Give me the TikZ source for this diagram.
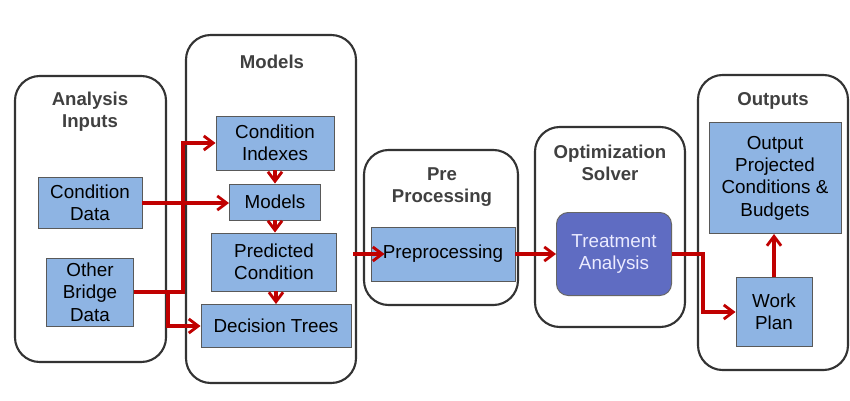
\documentclass[tikz,border=0pt]{standalone}
\usepackage{fontspec}
\setmainfont{Liberation Sans}
\usetikzlibrary{arrows.meta,calc}
\definecolor{boxblue}{HTML}{8EB4E3}
\definecolor{solverblue}{HTML}{5F6CC2}
\definecolor{flowred}{HTML}{C00000}
\definecolor{framegray}{HTML}{333333}
\definecolor{headgray}{HTML}{404040}

\begin{document}
\begin{tikzpicture}[x=0.85pt, y=-0.85pt,
  group/.style = {draw=framegray, line width=1.8pt, rounded corners=21pt, fill=white, inner sep=0pt},
  heading/.style = {text=headgray, font=\fontsize{15.8}{18.5}\selectfont\bfseries, align=center},
  blk/.style = {draw=black!65, line width=0.8pt, fill=boxblue, align=center, inner sep=0pt,
                font=\fontsize{16}{19}\selectfont},
  flow/.style = {draw=flowred, line width=2.6pt, -{Straight Barb[length=8pt,width=12pt,line width=2.4pt]}}]
\useasboundingbox (0,0) rectangle (850,401);

% group frames
\node[group, minimum width=128.4pt, minimum height=243.1pt] (grpIn)  at (90.5,219) {};
\node[group, minimum width=144.5pt, minimum height=295.8pt] (grpMod) at (271,209) {};
\node[group, minimum width=130.9pt, minimum height=131.8pt] (grpPre) at (441,227.5) {};
\node[group, minimum width=127.5pt, minimum height=170pt]   (grpOpt) at (610,227) {};
\node[group, minimum width=127.5pt, minimum height=250.8pt] (grpOut) at (773,222.5) {};

% headings
\node[heading] (hIn)  at (90,112)  {Analysis\\Inputs};
\node[heading] (hMod) at (272,62)  {Models};
\node[heading] (hPre) at (442,187) {Pre\\Processing};
\node[heading] (hOpt) at (610,163) {Optimization\\Solver};
\node[heading] (hOut) at (773,101) {Outputs};

% blocks
\node[blk, minimum width=88.4pt,  minimum height=43.4pt] (cd)  at (90,203)  {Condition\\Data};
\node[blk, minimum width=74pt,    minimum height=57.8pt] (obd) at (90,292)  {Other\\Bridge\\Data};
\node[blk, minimum width=100.3pt, minimum height=45.9pt] (ci)  at (275,143) {Condition\\Indexes};
\node[blk, minimum width=77.4pt,  minimum height=30.6pt] (mod) at (275,202) {Models};
\node[blk, minimum width=106.3pt, minimum height=49.3pt] (pc)  at (274,262) {Predicted\\Condition};
\node[blk, minimum width=127.5pt, minimum height=36.6pt] (dt)  at (276,326) {Decision Trees};
\node[blk, minimum width=122.4pt, minimum height=45.9pt] (pp)  at (443,254) {Preprocessing};
\node[blk, fill=solverblue, draw=black!60, rounded corners=10pt, text=white!92!blue,
      minimum width=97.8pt, minimum height=70.6pt] (ta) at (614,254) {Treatment\\Analysis};
\node[blk, minimum width=112.2pt, minimum height=94.4pt] (out) at (775,178) {Output\\Projected\\Conditions \&\\Budgets};
\node[blk, minimum width=64.6pt,  minimum height=58.7pt] (wp)  at (774,312) {Work\\Plan};

% connectors
\draw[flow] (obd.east) -- ++(49,0) |- (ci.west);
\draw[flow] (obd.east) -- ++(34,0) |- (dt.west);
\draw[flow] (cd.east) -- (cd.east -| mod.west);
\draw[flow] (ci.south -| mod.north) -- (mod.north);
\draw[flow] (mod.south) -- (mod.south |- pc.north);
\draw[flow] (pc.south -| dt.north) -- (dt.north);
\draw[flow] ($(grpMod.east |- pp.west)+(-4,0)$) -- ($(pp.west)+(14,0)$);
\draw[flow] (pp.east) -- (ta.west);
\draw[flow] (ta.east) -- ++(31,0) |- (wp.west);
\draw[flow] (wp.north) -- (wp.north |- out.south);
\end{tikzpicture}
\end{document}
